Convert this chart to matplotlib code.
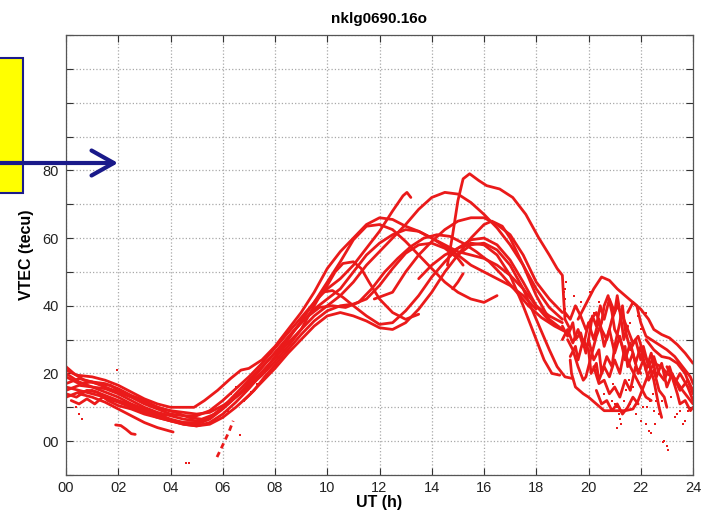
import matplotlib
matplotlib.use('Agg')
import matplotlib.pyplot as plt
from matplotlib.patches import Rectangle, FancyArrowPatch

plt.rcParams['font.family'] = ['Liberation Sans', 'DejaVu Sans']

title = 'nklg0690.16o'
xlabel = 'UT (h)'
ylabel = 'VTEC (tecu)'
xticks = list(range(0, 25, 2))
yticks = list(range(-10, 121, 10))
ylabeled = [0, 20, 40, 60, 80]

# satellite arcs, (UT hour, VTEC)
arc01 = [(0, 21), (0.4, 19.5), (1, 19), (1.5, 18), (2, 16.5), (2.5, 14.5), (3, 12.5), (3.5, 11),
         (4, 10), (4.5, 10), (4.9, 10), (5.3, 12), (5.8, 15), (6.3, 18.5), (6.7, 21), (7, 21.5),
         (7.5, 24), (8, 28), (8.5, 33), (9, 38), (9.5, 44), (10, 51), (10.5, 56), (11, 60),
         (11.5, 64), (12, 66), (12.5, 65.5), (13, 63.5), (13.5, 62), (14, 60), (14.5, 58),
         (15, 56), (15.5, 55), (16, 54), (16.5, 52), (17, 49), (17.5, 45), (18, 40), (18.5, 37),
         (19, 35)]
arc02 = [(0, 17), (0.5, 18.5), (1, 17.5), (1.5, 16), (2, 14.5), (2.5, 13), (3, 11), (3.5, 9.5),
         (4, 8), (4.5, 7.5), (5, 7.5), (5.5, 9), (6, 12), (6.5, 15.5), (7, 19), (7.5, 23),
         (8, 27.5), (8.5, 32), (9, 36.5), (9.5, 41), (10, 45), (10.5, 48), (11, 52), (11.5, 57),
         (12, 62), (12.5, 68), (12.9, 72.5), (13.05, 73.5), (13.2, 72)]
arc03 = [(0, 15), (0.5, 16.5), (1, 16), (1.5, 14.5), (2, 13), (2.5, 11), (3, 9.5), (3.5, 8),
         (4, 6.5), (4.5, 5.5), (5, 5), (5.5, 6.5), (6, 9.5), (6.5, 13), (7, 16.5), (7.5, 20.5),
         (8, 24.5), (8.5, 29), (9, 33), (9.5, 37), (10, 40), (10.5, 43), (11, 47), (11.5, 52),
         (12, 56), (12.5, 60), (13, 64), (13.5, 68.5), (14, 72), (14.5, 73.5), (15, 73),
         (15.5, 70.5), (16, 67), (16.5, 63), (17, 58), (17.5, 52), (18, 45), (18.5, 39.5),
         (19, 36)]
arc04 = [(14.6, 52), (14.8, 61), (15.0, 71), (15.2, 77.5), (15.45, 79), (15.8, 77), (16.1, 75.5),
         (16.6, 74.5), (17.1, 72), (17.6, 67), (18.1, 60), (18.5, 55), (18.8, 51), (19.0, 49),
         (19.05, 42), (19.1, 36), (19.3, 33)]
arc05 = [(0, 19), (0.5, 17), (1, 17.5), (1.5, 17), (2, 15.5), (2.5, 13.5), (3, 12), (3.5, 10),
         (4, 9), (4.5, 8.5), (5, 8), (5.5, 8.5), (6, 10.5), (6.5, 13), (7, 16), (7.5, 19.5),
         (8, 23.5), (8.5, 28), (9, 33), (9.5, 40), (9.8, 44), (10.2, 44.5), (10.6, 42.5),
         (11, 40), (11.5, 37), (12, 34.5), (12.5, 35), (13, 38.5), (13.5, 43), (14, 48.5),
         (14.5, 53), (15, 57), (15.5, 59.5), (16, 60), (16.5, 58), (17, 53.5), (17.5, 47),
         (18, 40), (18.5, 35.5), (19, 33)]
arc06 = [(0, 13), (0.5, 14.5), (1, 15), (1.5, 13.5), (2, 12), (2.5, 10.5), (3, 9), (3.5, 7.5),
         (4, 6), (4.5, 5), (5, 4.5), (5.5, 5.5), (6, 8), (6.5, 11.5), (7, 15.5), (7.5, 20),
         (8, 25), (8.5, 30), (9, 35.5), (9.5, 41), (10, 47), (10.5, 53), (11, 59.5), (11.5, 63.5),
         (12, 64), (12.5, 62.5), (13, 59), (13.5, 55), (14, 51), (14.5, 47), (15, 44), (15.5, 42),
         (16, 41), (16.5, 43)]
arc07 = [(0, 16), (0.5, 15), (1, 14), (1.5, 13), (2, 11.5), (2.5, 10), (3, 8.5), (3.5, 7),
         (4, 6), (4.5, 5), (5, 4.5), (5.5, 5), (6, 7), (6.5, 10), (7, 13.5), (7.5, 17.5),
         (8, 21.5), (8.5, 26), (9, 30), (9.5, 34), (10, 37), (10.5, 38), (11, 37), (11.5, 35.5),
         (12, 33.5), (12.5, 33), (13, 35), (13.5, 39), (14, 44), (14.5, 50), (15, 55),
         (15.5, 60), (16, 64), (16.3, 65), (16.7, 63.5), (17, 60), (17.5, 52), (18, 43),
         (18.5, 36), (19, 33)]
arc08 = [(11.8, 42), (12.5, 44), (13, 50), (13.5, 55), (14, 59), (14.5, 62.5), (15, 65),
         (15.5, 66), (16, 66), (16.5, 64), (17, 61), (17.5, 55), (18, 47), (18.5, 42), (19, 38)]
arc09 = [(13.5, 48), (14, 52), (14.5, 55), (15, 57), (15.5, 58.5), (16, 58), (16.5, 55), (17, 49),
         (17.5, 40), (18, 30), (18.3, 24), (18.6, 20), (18.9, 19.5)]
arc10 = [(15, 55), (15.5, 58), (16, 58.5), (16.5, 56.5), (17, 52), (17.5, 45), (18, 36),
         (18.5, 27), (18.8, 22), (19.1, 19), (19.4, 18.5)]
arc11 = [(0, 22), (0.3, 20), (0.7, 18), (1.2, 17), (1.7, 16.5), (2.2, 14), (2.7, 12.5), (3.2, 11),
         (3.7, 9.5), (4.2, 8.5), (4.7, 7), (5.2, 6.5), (5.7, 8), (6.2, 11), (6.7, 14.5), (7.2, 19),
         (7.7, 23.5), (8.2, 28), (8.7, 32.5), (9.2, 36.5), (9.7, 39.5), (10.2, 40), (10.7, 39.5),
         (11.2, 41), (11.7, 45), (12.2, 50), (12.7, 54), (13.2, 57.5), (13.7, 60), (14.2, 61),
         (14.7, 60.5), (15.2, 58.5), (15.7, 56), (16.2, 53), (16.7, 49), (17.2, 44.5),
         (17.7, 40), (18.2, 36.5), (18.7, 34), (19.2, 32)]
arc12 = [(0.5, 14), (1, 13), (1.5, 11.5), (2, 9.5), (2.5, 7.5), (3, 5.5), (3.5, 4), (4.1, 2.7)]
arc13 = [(0, 14), (0.4, 13), (0.8, 15), (1.2, 14.5), (1.6, 12), (2, 10.5), (2.5, 9.5), (3, 8),
         (3.5, 7), (4, 6), (4.5, 5.5), (5, 5.5), (5.3, 6)]
arc14 = [(1.9, 4.8), (2.1, 4.6), (2.3, 3.5), (2.5, 2.2), (2.65, 2)]
arc15 = [(5.78, -4.7), (5.95, -2), (6.1, 0.5), (6.25, 3), (6.4, 6)]
arc16 = [(0, 20), (0.5, 17.5), (1, 16), (1.5, 15.5), (2, 14), (2.5, 12), (3, 10), (3.5, 8.5),
         (4, 7.5), (4.5, 6.5), (5, 6), (5.5, 7), (6, 10), (6.5, 14), (7, 18), (7.5, 22), (8, 26),
         (8.5, 30.5), (9, 35), (9.5, 39), (10, 42), (10.5, 45), (11, 50), (11.5, 55), (12, 58.5),
         (12.5, 61), (13, 62.5), (13.5, 62), (14, 60), (14.5, 57.5), (15, 55), (15.5, 52),
         (16, 50), (16.5, 48), (17, 46), (17.5, 43), (18, 39)]
arc17 = [(6.8, 12), (7.2, 15), (7.6, 19), (8, 22.5), (8.5, 27), (9, 31.5), (9.5, 35.5), (10, 38.5),
         (10.5, 40), (11, 40.5), (11.5, 42), (12, 46), (12.5, 51), (13, 55.5), (13.5, 58),
         (14, 58.5), (14.5, 57), (15, 54), (15.2, 52)]
arc18 = [(9.5, 41), (10, 46), (10.3, 50), (10.6, 52.5), (11, 53), (11.3, 51), (11.6, 47), (12, 42),
         (12.5, 38), (13, 36), (13.5, 37.5)]
arc19 = [(14.8, 45), (15.0, 47), (15.2, 49.5)]
arc20 = [(0.2, 12), (0.5, 11), (0.8, 12.5), (1.1, 11), (1.4, 13), (1.8, 12), (2.2, 11.5),
         (2.6, 10), (3, 9), (3.4, 8), (3.8, 7.5)]

# evening traces
eve01 = [(19.6, 36), (19.8, 39), (20.0, 42), (20.2, 45), (20.5, 48.5), (20.8, 47.5), (21.1, 45),
         (21.4, 43), (21.7, 41), (22.0, 39), (22.3, 36), (22.5, 33), (22.8, 31.5), (23.1, 30.5),
         (23.4, 28.5), (23.7, 26), (24, 23)]
eve02 = [(21.5, 38), (21.7, 41), (21.85, 40), (22.0, 35), (22.2, 31), (22.4, 30), (22.6, 29),
         (22.8, 28), (23.0, 27), (23.3, 25), (23.6, 22), (23.9, 19), (24, 17)]
eve03 = [(22.2, 30), (22.5, 27), (22.8, 25), (23.1, 24.5), (23.4, 23), (23.7, 20), (24, 14)]
eve04 = [(19.3, 24), (19.35, 20), (19.5, 16), (19.8, 14), (20.0, 13), (20.3, 11), (20.6, 9),
         (21.0, 9), (21.4, 9), (21.7, 9.5), (21.9, 12), (22.1, 16), (22.3, 20), (22.5, 23),
         (22.8, 22), (23.0, 20), (23.3, 18.5), (23.6, 15), (24, 11)]
eve05 = [(19.0, 34), (19.2, 31), (19.4, 35), (19.5, 30), (19.7, 32), (19.9, 26), (20.0, 30),
         (20.2, 24), (20.4, 27), (20.5, 20), (20.7, 25), (20.9, 22), (21.0, 28), (21.2, 35),
         (21.3, 40), (21.4, 33), (21.6, 27), (21.8, 30), (22.0, 24), (22.1, 28), (22.3, 22),
         (22.5, 25), (22.7, 20), (22.9, 18), (23.1, 22), (23.3, 17), (23.5, 20), (23.8, 16),
         (24, 12)]
eve06 = [(19.2, 30), (19.4, 27), (19.6, 22), (19.8, 18), (19.9, 19), (20.1, 25), (20.3, 31),
         (20.5, 35), (20.6, 40), (20.75, 43), (20.9, 38), (21.0, 33), (21.2, 30), (21.4, 26),
         (21.6, 22), (21.8, 19), (22.0, 16), (22.2, 13), (22.4, 12)]
eve07 = [(19.1, 38), (19.3, 36), (19.5, 40), (19.7, 37), (19.9, 33), (20.1, 36), (20.3, 38),
         (20.5, 33), (20.7, 30), (20.9, 36), (21.1, 40), (21.3, 37), (21.5, 33), (21.7, 29),
         (21.9, 31), (22.1, 26), (22.3, 23), (22.5, 18), (22.6, 14), (22.7, 10), (22.8, 7)]
eve08 = [(20.2, 22), (20.4, 17), (20.6, 18), (20.8, 14), (21.0, 16), (21.2, 13), (21.4, 18),
         (21.6, 15), (21.8, 22), (22.0, 20)]
eve09 = [(19.0, 30), (19.2, 33), (19.4, 29), (19.6, 33), (19.8, 28), (20.0, 35), (20.2, 30),
         (20.4, 36), (20.6, 28), (20.8, 33), (21.0, 26), (21.2, 31), (21.4, 24), (21.6, 29),
         (21.8, 23), (22.0, 28), (22.2, 21), (22.4, 26), (22.6, 19), (22.8, 23), (23.0, 16),
         (23.2, 20), (23.5, 15), (23.8, 18), (24, 15)]
eve10 = [(19.3, 25), (19.5, 28), (19.6, 24), (19.8, 30), (20.0, 27), (20.1, 20), (20.3, 23),
         (20.4, 18), (20.6, 22), (20.8, 19), (21.0, 24), (21.2, 20), (21.4, 28), (21.5, 22),
         (21.7, 26), (21.9, 20), (22.1, 24), (22.3, 18), (22.5, 21), (22.7, 15), (22.9, 13),
         (23.0, 10)]
eve11 = [(20.3, 15), (20.5, 11), (20.7, 12), (20.9, 9), (21.1, 11), (21.3, 8), (21.5, 10),
         (21.7, 13), (21.9, 11)]
eve12 = [(23.0, 22), (23.2, 19), (23.4, 14), (23.5, 11), (23.7, 12), (23.9, 9), (24, 10)]
eve13 = [(20.0, 30), (20.15, 37), (20.3, 34), (20.45, 40), (20.6, 36), (20.8, 42), (21.0, 38),
         (21.1, 43), (21.25, 36), (21.35, 30), (21.5, 34)]

# isolated samples
dots_t = [1.95, 4.6, 4.7, 6.66, 6.2, 6.8, 7.1, 0.4, 0.5, 0.6, 6.3, 6.5, 7.3,
          19.1, 19.1, 19.1, 19.15, 20.2, 20.4, 20.8, 21.1, 21.15, 21.2, 21.25, 21.1, 21.8, 22.0,
          22.2, 22.3, 22.4, 22.55, 22.7, 23.3, 23.4, 23.6, 23.8, 22.9, 23.0, 23.05, 22.85, 20.9,
          21.0, 20.6, 21.6, 22.1, 22.35, 22.45, 22.5, 19.45, 19.7, 20.05, 21.6, 21.9, 22.2, 22.0,
          19.05, 19.08, 19.12, 20.7, 21.35, 21.45, 21.55, 22.25, 22.6, 22.65, 23.15, 23.5, 23.7,
          20.35, 20.95, 21.7, 22.8]
dots_v = [21, -6.5, -6.5, 1.8, 9, 12, 14.5, 10, 8, 6.5, 14, 16, 17,
          45, 42, 39, 47, 38, 41, 32, 10, 8, 6.5, 5, 4, 8, 6,
          5, 3, 2.5, 5, 8, 7, 8, 5, 9, 0, -1.5, -2.7, -0.3, 12,
          11, 14, 11, 10, 12, 14, 9, 43, 41, 44, 35, 37, 38, 33,
          44, 40, 37, 16, 12, 15, 18, 10, 12, 16, 13, 9, 6,
          19, 17, 16, 12]

arcs = [arc01, arc02, arc03, arc04, arc05, arc06, arc07, arc08, arc09, arc10, arc11, arc12,
        arc13, arc14, arc16, arc17, arc18, arc19, arc20,
        eve01, eve02, eve03, eve04, eve05, eve06, eve07, eve08, eve09, eve10, eve11, eve12, eve13]

red = '#ea1a1a'
fig = plt.figure(figsize=(7.06, 5.14), dpi=100)
ax = fig.add_axes([66 / 706, 1 - 475 / 514, 627 / 706, 440 / 514])

for arc in arcs:
    ax.plot([p[0] for p in arc], [p[1] for p in arc], color=red, lw=2, solid_capstyle='round')
ax.plot([p[0] for p in arc15], [p[1] for p in arc15], color=red, lw=2, ls=(0, (2, 1.5)))
ax.plot(dots_t, dots_v, 's', color=red, ms=1.6, mew=0)

ax.set_xlim(0, 24)
ax.set_ylim(-10, 120)
ax.set_xticks(xticks)
ax.set_xticklabels(['%02d' % x for x in xticks])
ax.set_yticks(yticks)
ax.set_yticklabels(['%02d' % y if y in ylabeled else '' for y in yticks])
ax.tick_params(direction='in', length=5, width=0.8, top=True, right=True,
               labelsize=10.5, colors='#333333', labelcolor='#222222')
ax.tick_params(axis='x', pad=4)
ax.tick_params(axis='y', pad=5)
ax.grid(True, ls=':', color='#a8a8a8', lw=0.9)
for s in ax.spines.values():
    s.set_color('#555555')
    s.set_linewidth(0.9)

ax.set_title(title, fontsize=11, fontweight='bold', pad=9)
ax.set_xlabel(xlabel, fontsize=11.5, fontweight='bold', labelpad=0)
ax.set_ylabel(ylabel, fontsize=11.5, fontweight='bold', labelpad=6)

# yellow marker box and arrow on the left
fig.patches.append(Rectangle((-0.01, 1 - 193 / 514), 0.01 + 22.5 / 706, 135 / 514,
                             transform=fig.transFigure, facecolor='#ffff00',
                             edgecolor='#1c1c8c', lw=1.5, zorder=5))
fig.add_artist(FancyArrowPatch(
    (0.0, 1 - 163 / 514), (118 / 706, 1 - 163 / 514), transform=fig.transFigure,
    arrowstyle='->,head_length=0.8,head_width=0.45', mutation_scale=20,
    color='#1a1a8a', lw=3, shrinkA=0, shrinkB=0, zorder=6))

fig.savefig('out.png', dpi=100)
